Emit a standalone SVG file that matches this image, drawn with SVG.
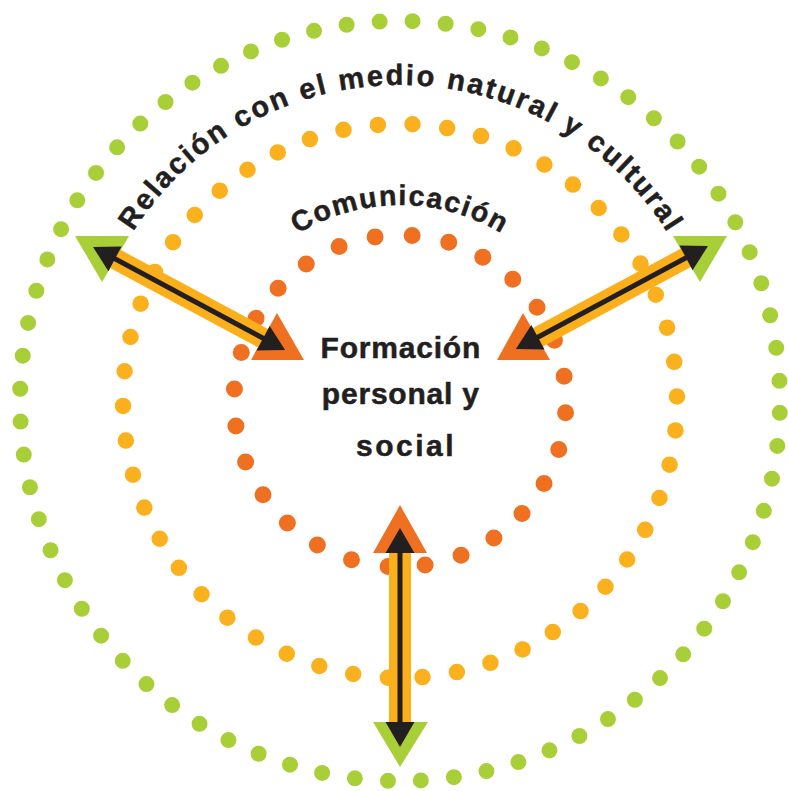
<svg xmlns="http://www.w3.org/2000/svg" xmlns:xlink="http://www.w3.org/1999/xlink" width="788" height="791" viewBox="0 0 788 791">
  <style>
    .ring { fill: none; stroke-linecap: round; }
    .green { stroke: #A9CF38; }
    .orange { stroke: #FBB01E; }
    .red { stroke: #F07022; }
    .lbl { font-family: "Liberation Sans", Arial, sans-serif; font-weight: bold; fill: #231F20; stroke: #231F20; stroke-width: 0.5; }
    .outer { font-size: 29px; letter-spacing: 2.25px; }
    .bar { fill: #FBAF1A; }
    .shaft { stroke: #231F20; stroke-width: 5; }
    .head { fill: #231F20; }
    .tg { fill: #A9CF38; }
    .to { fill: #F07022; }
  </style>
  <defs>
    <path id="arcOuter" d="M 88.8,346.1 A 316 316 0 0 1 711.2,346.1"/>
    <path id="arcMiddle" d="M 207,367 A 196 196 0 0 1 593,367"/>
  </defs>
  <rect width="788" height="791" fill="#FFFFFF"/>

  <g id="ring-outer">
    <circle class="ring green" cx="400" cy="401" r="380" stroke-width="16" stroke-dasharray="0 33.161" stroke-dashoffset="21.22"/>
    <g id="label-outer">
      <text class="lbl outer"><textPath xlink:href="#arcOuter" href="#arcOuter" startOffset="123.5">Relación</textPath></text>
      <text class="lbl outer"><textPath xlink:href="#arcOuter" href="#arcOuter" startOffset="272.7">con el medio</textPath></text>
      <text class="lbl outer"><textPath xlink:href="#arcOuter" href="#arcOuter" startOffset="487.3">natural</textPath></text>
      <text class="lbl outer"><textPath xlink:href="#arcOuter" href="#arcOuter" startOffset="610.0">y cultural</textPath></text>
    </g>
  </g>

  <g id="ring-middle">
    <circle class="ring orange" cx="400" cy="401" r="277" stroke-width="16.5" stroke-dasharray="0 34.809" stroke-dashoffset="5.32"/>
    <text class="lbl" font-size="28.5" letter-spacing="1.6" text-anchor="middle"><textPath xlink:href="#arcMiddle" href="#arcMiddle" startOffset="50%">Comunicación</textPath></text>
  </g>

  <g id="ring-inner">
    <circle class="ring red" cx="400" cy="401" r="166" stroke-width="17" stroke-dasharray="0 37.250" stroke-dashoffset="25.37"/>
    <text class="lbl" font-size="30" text-anchor="middle">
      <tspan x="405" y="358" letter-spacing="0.8">Formación</tspan>
      <tspan x="405" y="404" letter-spacing="0.8">personal y</tspan>
      <tspan x="406" y="456" letter-spacing="2.5">social</tspan>
    </text>
  </g>

  <g id="connectors">
    <g id="arrow-left">
      <polygon class="tg" points="75,236 129,236 102,282"/>
      <polygon class="to" points="277,313 251,360 304,360"/>
      <g transform="translate(93 247) rotate(28.21)">
        <rect class="bar" x="24" y="-10.5" width="170" height="21"/>
        <line class="shaft" x1="10" y1="0" x2="208" y2="0"/>
        <polygon class="head" points="0,0 25,-14 25,14"/>
        <polygon class="head" points="218,0 193,-14 193,14"/>
      </g>
    </g>
    <g id="arrow-right">
      <polygon class="tg" points="673,236 727,236 700,282"/>
      <polygon class="to" points="523,313 497,360 550,360"/>
      <g transform="translate(708 246) rotate(151.79)">
        <rect class="bar" x="24" y="-10.5" width="170" height="21"/>
        <line class="shaft" x1="10" y1="0" x2="208" y2="0"/>
        <polygon class="head" points="0,0 25,-14 25,14"/>
        <polygon class="head" points="218,0 193,-14 193,14"/>
      </g>
    </g>
    <g id="arrow-bottom">
      <polygon class="to" points="400,505 373,553 427,553"/>
      <polygon class="tg" points="373,722 428,722 400,767"/>
      <g transform="translate(400 747) rotate(-90)">
        <rect class="bar" x="24" y="-11" width="171" height="22"/>
        <line class="shaft" x1="10" y1="0" x2="209" y2="0"/>
        <polygon class="head" points="0,0 25,-14.5 25,14.5"/>
        <polygon class="head" points="219,0 194,-14.5 194,14.5"/>
      </g>
    </g>
  </g>
</svg>
